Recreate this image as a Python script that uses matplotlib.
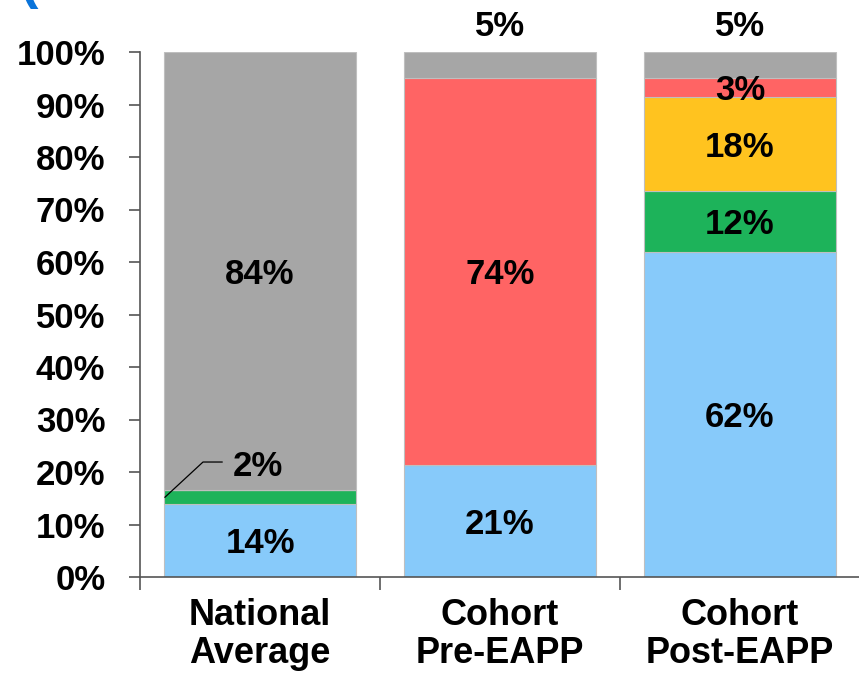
import matplotlib
matplotlib.use("Agg")
import matplotlib.pyplot as plt
from matplotlib.ticker import FixedLocator

plt.rcParams["font.family"] = ["Liberation Sans", "DejaVu Sans"]
plt.rcParams["font.weight"] = "bold"

categories = ["National\nAverage", "Cohort\nPre-EAPP", "Cohort\nPost-EAPP"]

# stacked segments, bottom to top (percent)
seg_blue = [14, 21.3, 62]
seg_green = [2.5, 0, 11.5]
seg_yellow = [0, 0, 18]
seg_red = [0, 73.7, 3.5]
seg_gray = [83.5, 5, 5]

lab_blue = ["14%", "21%", "62%"]
lab_green = [None, None, "12%"]
lab_yellow = [None, None, "18%"]
lab_red = [None, "74%", "3%"]
lab_gray = ["84%", "5%", "5%"]

yticks = list(range(0, 101, 10))
ytick_labels = [f"{v}%" for v in yticks]

colors = {"blue": "#87CAFA", "green": "#1DB35A", "yellow": "#FFC31F",
          "red": "#FF6464", "gray": "#A6A6A6"}

FS = 25

fig = plt.figure(figsize=(8.59, 6.76), dpi=100)
ax = fig.add_axes([140 / 859, 1 - 577 / 676, 720 / 859, 525 / 676])

x = list(range(len(categories)))
series = [(seg_blue, lab_blue, "blue"), (seg_green, lab_green, "green"),
          (seg_yellow, lab_yellow, "yellow"), (seg_red, lab_red, "red"),
          (seg_gray, lab_gray, "gray")]
bottom = [0.0] * len(categories)
for vals, labs, key in series:
    ax.bar(x, vals, bottom=bottom, width=0.8, color=colors[key],
           edgecolor="#BFBFBF", linewidth=0.8)
    for i, (v, lab) in enumerate(zip(vals, labs)):
        if lab is None or v == 0:
            continue
        if key == "gray" and v < 8:
            # small top segment: label sits above the bar
            ax.text(i, 104.8, lab, ha="center", va="center", fontsize=FS,
                    fontweight="bold", clip_on=False)
        elif key == "green" and v < 5:
            pass
        else:
            ax.text(i, bottom[i] + v / 2 - 0.6, lab, ha="center", va="center",
                    fontsize=FS, fontweight="bold")
    bottom = [b + v for b, v in zip(bottom, vals)]

# leader line for the thin green slice of the first bar
ax.plot([-0.396, -0.2375, -0.158], [15.2, 21.9, 21.9], color="black", lw=0.9)
ax.text(-0.112, 21.0, "2%", ha="left", va="center", fontsize=FS, fontweight="bold")

ax.set_xlim(-0.5, 2.5)
ax.set_ylim(0, 100)
ax.set_yticks(yticks)
ax.set_yticklabels(ytick_labels, fontsize=FS, fontweight="bold")
ax.set_xticks(x)
ax.set_xticklabels(categories, fontsize=26, fontweight="bold", linespacing=1.12)
ax.tick_params(axis="x", which="major", length=0, pad=15)
ax.xaxis.set_minor_locator(FixedLocator([-0.5, 0.5, 1.5]))
ax.tick_params(axis="x", which="minor", length=9, width=1.2, color="#555555")
ax.tick_params(axis="y", length=8, width=1.2, color="#555555", pad=17)
for s in ("top", "right"):
    ax.spines[s].set_visible(False)
for s in ("left", "bottom"):
    ax.spines[s].set_color("#555555")
    ax.spines[s].set_linewidth(1.2)

# clipped bracket glyph at the top-left corner
fig.text(19 / 859, 1.004, "(", color="#0A74DA", fontsize=40, fontweight="bold",
         ha="left", va="baseline")

fig.savefig("out.png", dpi=100)
